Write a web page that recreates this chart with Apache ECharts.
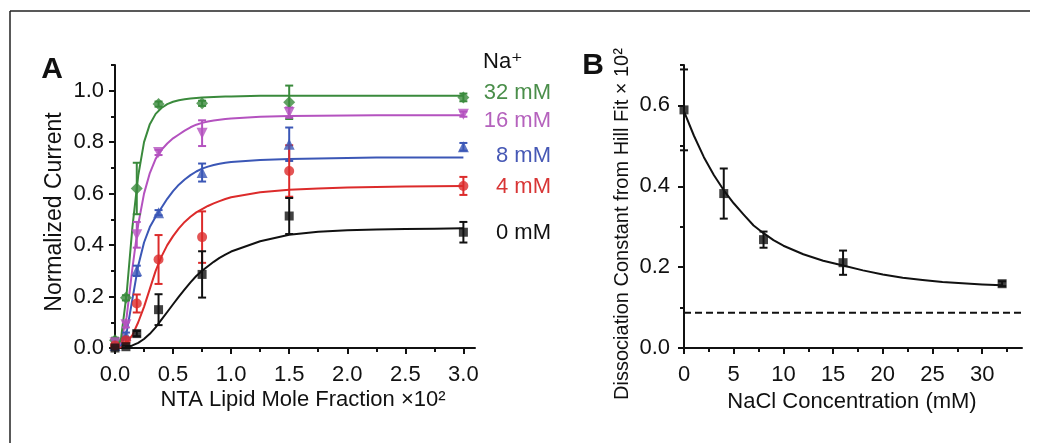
<!DOCTYPE html>
<html>
<head>
<meta charset="utf-8">
<script src="https://cdn.jsdelivr.net/npm/echarts@6/dist/echarts.min.js"></script>
<style>html,body{margin:0;padding:0;background:#fff}#c{width:1044px;height:443px}</style>
</head>
<body>
<div id="c"></div>
<script>
// ---------- Panel A data ----------
const lipidX = [0, 0.094, 0.1875, 0.375, 0.75, 1.5, 3.0];
const na32 = [0.03, 0.195, 0.62, 0.948, 0.951, 0.955, 0.974];
const na32Err = [0.01, 0.01, 0.10, 0.01, 0.01, 0.065, 0.015];
const na16 = [0.02, 0.09, 0.44, 0.76, 0.835, 0.915, 0.909];
const na16Err = [0.01, 0.01, 0.05, 0.01, 0.05, 0.02, 0.01];
const na8 = [0.01, 0.05, 0.30, 0.526, 0.682, 0.792, 0.782];
const na8Err = [0.01, 0.01, 0.02, 0.01, 0.035, 0.065, 0.015];
const na4 = [0.01, 0.03, 0.173, 0.344, 0.431, 0.688, 0.63];
const na4Err = [0.01, 0.01, 0.035, 0.095, 0.10, 0.10, 0.035];
const na0 = [0.0, 0.005, 0.056, 0.149, 0.286, 0.513, 0.45];
const na0Err = [0.005, 0.005, 0.01, 0.06, 0.09, 0.07, 0.04];

// fitted curves, values
const fitX = [0, 0.05, 0.1, 0.15, 0.2, 0.25, 0.3, 0.35, 0.4, 0.45, 0.5, 0.55, 0.6, 0.65, 0.7, 0.75, 0.8, 0.85, 0.9, 0.95, 1.0,
              1.25, 1.5, 1.75, 2.0, 2.25, 2.5, 2.75, 3.0];
const fit32 = [0, 0.03, 0.21, 0.47, 0.67, 0.80, 0.87, 0.91, 0.933, 0.948, 0.957, 0.963, 0.967, 0.97, 0.972, 0.974, 0.975, 0.976, 0.977, 0.978, 0.978,
               0.98, 0.98, 0.98, 0.98, 0.98, 0.98, 0.98, 0.98];
const fit16 = [0, 0.02, 0.12, 0.31, 0.48, 0.60, 0.68, 0.735, 0.77, 0.795, 0.815, 0.83, 0.845, 0.858, 0.868, 0.875, 0.88, 0.884, 0.887, 0.89, 0.892,
               0.899, 0.902, 0.903, 0.904, 0.905, 0.905, 0.905, 0.905];
const fit8 = [0, 0.01, 0.06, 0.19, 0.32, 0.41, 0.47, 0.51, 0.545, 0.58, 0.61, 0.635, 0.655, 0.672, 0.686, 0.697, 0.705, 0.711, 0.716, 0.72, 0.723,
              0.731, 0.735, 0.737, 0.739, 0.74, 0.74, 0.74, 0.74];
const fit4 = [0, 0.003, 0.02, 0.05, 0.10, 0.16, 0.23, 0.30, 0.355, 0.40, 0.435, 0.465, 0.49, 0.51, 0.527, 0.54, 0.552, 0.562, 0.571, 0.579, 0.586,
              0.605, 0.615, 0.62, 0.624, 0.626, 0.628, 0.629, 0.63];
const fit0 = [0, 0, 0.003, 0.01, 0.02, 0.035, 0.055, 0.08, 0.11, 0.14, 0.17, 0.20, 0.228, 0.255, 0.28, 0.30, 0.318, 0.335, 0.35, 0.363, 0.375,
              0.415, 0.44, 0.452, 0.458, 0.461, 0.463, 0.464, 0.465];

const aXMajor = [0, 0.5, 1.0, 1.5, 2.0, 2.5, 3.0];
const aXMinor = [0.25, 0.75, 1.25, 1.75, 2.25, 2.75];
const aYMajor = [0, 0.2, 0.4, 0.6, 0.8, 1.0];
const aYMinor = [0.1, 0.3, 0.5, 0.7, 0.9, 1.1];

// ---------- Panel B data ----------
const naclX = [0, 4, 8, 16, 32];
const kd = [0.589, 0.382, 0.268, 0.211, 0.159];
const kdErr = [0.10, 0.062, 0.02, 0.03, 0.006];
const kdFitX = [0, 1, 2, 3, 4, 5, 6, 7, 8, 9, 10, 12, 14, 16, 18, 20, 22, 24, 26, 28, 30, 32];
const kdFit = [0.585, 0.525, 0.472, 0.428, 0.39, 0.358, 0.33, 0.303, 0.284, 0.267, 0.253, 0.232, 0.216, 0.204, 0.192, 0.182, 0.174, 0.168, 0.163, 0.16, 0.157, 0.155];
const kdBaseline = 0.087;
const kdBaselineX = [0, 34];

const bXMajor = [0, 5, 10, 15, 20, 25, 30];
const bXMinor = [2.5, 7.5, 12.5, 17.5, 22.5, 27.5, 32.5];
const bYMajor = [0, 0.2, 0.4, 0.6];
const bYMinor = [0.1, 0.3, 0.5, 0.7];

// ---------- styling ----------
const FONT = '"Liberation Sans", Arial, "DejaVu Sans", sans-serif';
const INK = '#111';
const C32 = '#3a8a3c', C16 = '#b452bf', C8 = '#3b57b6', C4 = '#dc2b2b', C0 = '#111';

const zip = (xs, ys) => xs.map((x, i) => [x, ys[i]]);
const zip3 = (xs, ys, es) => xs.map((x, i) => [x, ys[i], es[i]]);

function errRender(color) {
  return function (params, api) {
    const x = api.value(0), y = api.value(1), e = api.value(2);
    const t = api.coord([x, y + e]);
    const b = api.coord([x, y - e]);
    const hw = 4;
    const st = { stroke: color, lineWidth: 2 };
    return {
      type: 'group',
      children: [
        { type: 'line', shape: { x1: t[0], y1: t[1], x2: b[0], y2: b[1] }, style: st },
        { type: 'line', shape: { x1: t[0] - hw, y1: t[1], x2: t[0] + hw, y2: t[1] }, style: st },
        { type: 'line', shape: { x1: b[0] - hw, y1: b[1], x2: b[0] + hw, y2: b[1] }, style: st }
      ]
    };
  };
}

function valueAxis(gridIndex, min, max, major, labelMargin, fmt) {
  return {
    type: 'value', gridIndex, min, max,
    axisLine: { show: true, lineStyle: { color: INK, width: 2 } },
    axisTick: { show: true, inside: false, length: 6, customValues: major, lineStyle: { color: INK, width: 2 } },
    axisLabel: { show: true, customValues: major, margin: labelMargin, color: INK, fontSize: 22, fontFamily: FONT, formatter: fmt },
    splitLine: { show: false }
  };
}
function minorAxis(gridIndex, min, max, minor) {
  return {
    type: 'value', gridIndex, min, max,
    axisLine: { show: false },
    axisTick: { show: true, inside: false, length: 4, customValues: minor, lineStyle: { color: INK, width: 2 } },
    axisLabel: { show: false },
    splitLine: { show: false }
  };
}

const f1 = v => v.toFixed(1);
const f0 = v => String(Math.round(v));

function curve(xs, ys, color, xi, yi) {
  return { type: 'line', xAxisIndex: xi, yAxisIndex: yi, data: zip(xs, ys), smooth: false,
    showSymbol: false, lineStyle: { color, width: 2, join: 'round' }, z: 2, silent: true };
}
function errs(xs, ys, es, color, xi, yi) {
  return { type: 'custom', xAxisIndex: xi, yAxisIndex: yi, data: zip3(xs, ys, es), encode: { x: 0, y: 1 },
    renderItem: errRender(color), z: 3, silent: true };
}
function pts(xs, ys, color, symbol, size, rot, xi, yi) {
  return { type: 'scatter', xAxisIndex: xi, yAxisIndex: yi, data: zip(xs, ys), symbol, symbolSize: size,
    symbolRotate: rot || 0, itemStyle: { color }, z: 4, silent: true };
}

function txt(x, y, text, opts) {
  opts = opts || {};
  return {
    type: 'text', x, y, rotation: opts.rot || 0, z: 100,
    style: {
      text, fill: opts.color || INK,
      font: (opts.weight || 'normal') + ' ' + (opts.size || 22) + 'px ' + FONT,
      align: opts.align || 'center', verticalAlign: 'middle'
    }
  };
}

const chart = echarts.init(document.getElementById('c'), null, { renderer: 'canvas' });
chart.setOption({
  animation: false,
  backgroundColor: '#fff',
  grid: [
    { left: 115, top: 65, width: 360, height: 283 },
    { left: 684, top: 65, width: 338, height: 283 }
  ],
  xAxis: [
    Object.assign(valueAxis(0, 0, 3.1, aXMajor, 16, f1), { position: 'bottom' }),
    Object.assign(minorAxis(0, 0, 3.1, aXMinor), { position: 'bottom' }),
    Object.assign(valueAxis(1, 0, 34, bXMajor, 16, f0), { position: 'bottom' }),
    Object.assign(minorAxis(1, 0, 34, bXMinor), { position: 'bottom' })
  ],
  yAxis: [
    Object.assign(valueAxis(0, 0, 1.1, aYMajor, 11, f1), { position: 'left' }),
    Object.assign(minorAxis(0, 0, 1.1, aYMinor), { position: 'left' }),
    Object.assign(valueAxis(1, 0, 0.7, bYMajor, 14, f1), { position: 'left' }),
    Object.assign(minorAxis(1, 0, 0.7, bYMinor), { position: 'left' })
  ],
  series: [
    curve(fitX, fit0, C0, 0, 0),
    curve(fitX, fit4, C4, 0, 0),
    curve(fitX, fit8, C8, 0, 0),
    curve(fitX, fit16, C16, 0, 0),
    curve(fitX, fit32, C32, 0, 0),
    errs(lipidX, na32, na32Err, C32, 0, 0),
    errs(lipidX, na16, na16Err, C16, 0, 0),
    errs(lipidX, na8, na8Err, C8, 0, 0),
    errs(lipidX, na4, na4Err, C4, 0, 0),
    errs(lipidX, na0, na0Err, C0, 0, 0),
    pts(lipidX, na32, C32, 'diamond', 12, 0, 0, 0),
    pts(lipidX, na16, C16, 'triangle', 11, 180, 0, 0),
    pts(lipidX, na8, C8, 'triangle', 11, 0, 0, 0),
    pts(lipidX, na4, C4, 'circle', 10, 0, 0, 0),
    pts(lipidX, na0, C0, 'rect', 9, 0, 0, 0),
    curve(kdFitX, kdFit, INK, 2, 2),
    { type: 'line', xAxisIndex: 2, yAxisIndex: 2, data: kdBaselineX.map(x => [x, kdBaseline]), showSymbol: false,
      lineStyle: { color: INK, width: 2, type: [7, 4] }, silent: true },
    errs(naclX, kd, kdErr, INK, 2, 2),
    pts(naclX, kd, INK, 'rect', 9, 0, 2, 2)
  ],
  graphic: [
    { type: 'line', shape: { x1: 10, y1: 11, x2: 1030, y2: 11 }, style: { stroke: '#222', lineWidth: 1.5 } },
    { type: 'line', shape: { x1: 10, y1: 11, x2: 10, y2: 443 }, style: { stroke: '#222', lineWidth: 1.5 } },
    txt(52, 70, 'A', { size: 30, weight: 'bold' }),
    txt(593, 66, 'B', { size: 30, weight: 'bold' }),
    txt(55, 212, 'Normalized Current', { rot: Math.PI / 2, size: 23 }),
    txt(303, 400, 'NTA Lipid Mole Fraction ×10²'),
    txt(622, 224, 'Dissociation Constant from Hill Fit × 10²', { rot: Math.PI / 2, size: 20 }),
    txt(852, 402, 'NaCl Concentration (mM)'),
    txt(483, 62, 'Na⁺', { align: 'left' }),
    txt(551, 92.5, '32 mM', { align: 'right', color: '#4a8e4a' }),
    txt(551, 120.5, '16 mM', { align: 'right', color: '#b562bd' }),
    txt(551, 155.5, '8 mM', { align: 'right', color: '#4658b5' }),
    txt(551, 186.5, '4 mM', { align: 'right', color: '#d83535' }),
    txt(551, 232.5, '0 mM', { align: 'right', color: INK })
  ]
});
</script>
</body>
</html>
